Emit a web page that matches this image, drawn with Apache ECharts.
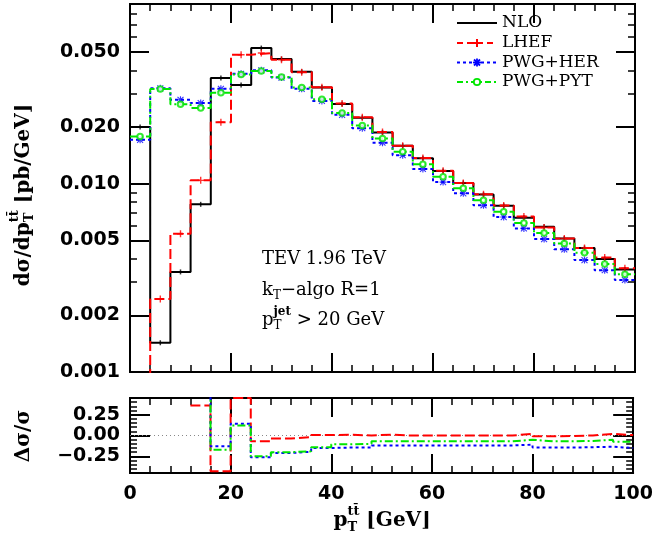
<!DOCTYPE html>
<html><head><meta charset="utf-8">
<script src="https://cdn.jsdelivr.net/npm/echarts@6/dist/echarts.min.js"></script>
<style>html,body{margin:0;padding:0;background:#fff}#c{width:656px;height:539px}</style>
</head><body><div id="c"></div>
<script>
// ---------------- data ----------------
const binEdges = [0,4,8,12,16,20,24,28,32,36,40,44,48,52,56,60,64,68,72,76,80,84,88,92,96,100];
const nlo    = [0.0200,0.00143,0.0034,0.00777,0.0364,0.0334,0.0525,0.0459,0.0393,0.0324,0.0265,0.0224,0.0187,0.0159,0.01365,0.01168,0.0101,0.00875,0.00764,0.00659,0.0059,0.00512,0.00455,0.00398,0.0035];
const lhef   = [0.0005,0.00244,0.00542,0.01042,0.0212,0.0484,0.0494,0.0455,0.0391,0.0325,0.0267,0.0225,0.0188,0.0159,0.0137,0.0117,0.0101,0.0088,0.00766,0.0067,0.00585,0.00512,0.00456,0.00405,0.00356];
const pwgHer = [0.0171,0.0321,0.0279,0.0268,0.0319,0.0383,0.0400,0.0366,0.0319,0.0275,0.0232,0.0197,0.0165,0.01416,0.01197,0.0102,0.00889,0.00768,0.00665,0.00579,0.00508,0.00448,0.00393,0.00347,0.00308];
const pwgPyt = [0.0178,0.0318,0.0264,0.0252,0.0304,0.0380,0.0397,0.0369,0.0324,0.0281,0.0237,0.0204,0.0174,0.0148,0.01268,0.01089,0.00945,0.00816,0.0071,0.00618,0.00547,0.00482,0.0043,0.00375,0.0033];
const ratioLhef = [null,null,null,0.36,-0.43,0.45,-0.07,-0.035,-0.02,0.005,0.01,0.0,0.01,0.0,0.0,0.0,0.0,0.0,0.0,0.02,-0.01,-0.005,0.0,0.02,0.005];
const ratioHer  = [null,null,null,2.45,-0.13,0.14,-0.26,-0.21,-0.195,-0.15,-0.145,-0.145,-0.12,-0.12,-0.12,-0.12,-0.12,-0.12,-0.12,-0.11,-0.145,-0.145,-0.14,-0.135,-0.15];
const ratioPyt  = [null,null,null,2.24,-0.17,0.12,-0.25,-0.20,-0.19,-0.14,-0.105,-0.10,-0.07,-0.07,-0.07,-0.07,-0.07,-0.07,-0.07,-0.05,-0.07,-0.07,-0.065,-0.05,-0.075];
const yMajorTicks = [0.001,0.002,0.005,0.01,0.02,0.05];
const yMinorTicks = [0.003,0.004,0.006,0.007,0.008,0.009,0.03,0.04,0.06,0.07,0.08];
const rMajorTicks = [-0.25,0,0.25];
const rMinorTicks = [-0.4,-0.35,-0.3,-0.2,-0.15,-0.1,-0.05,0.05,0.1,0.15,0.2,0.3,0.35,0.4];
const seriesNames = ['NLO','LHEF','PWG+HER','PWG+PYT'];

// ---------------- helpers ----------------
function stepData(vals){
  const d=[];
  for(let i=0;i<vals.length;i++) d.push([binEdges[i], vals[i]==null?'-':vals[i]]);
  const last=vals[vals.length-1];
  d.push([binEdges[vals.length], last==null?'-':last]);
  return d;
}
function centerData(vals){ return vals.map((v,i)=>[(binEdges[i]+binEdges[i+1])/2, v]); }

const TICKFONT = {fontFamily:'DejaVu Sans', fontWeight:'bold', fontSize:19, color:'#000'};
const AXLINE = {show:true, onZero:false, lineStyle:{color:'#000', width:2}};
function xAx(grid,pos,labels){
  return {type:'value', gridIndex:grid, position:pos, min:0, max:100, interval:20,
    axisLine:AXLINE,
    axisTick:{show:true, inside:true, length:19, lineStyle:{color:'#000', width:2}},
    minorTick:{show:true, splitNumber:5, length:7, lineStyle:{color:'#000', width:1.5}},
    axisLabel:Object.assign({show:labels, margin:12}, TICKFONT),
    splitLine:{show:false}, minorSplitLine:{show:false}};
}
function yLogAx(pos,ticks,len,labels){
  return {type:'log', logBase:10, gridIndex:0, position:pos, min:0.001, max:0.09,
    axisLine:AXLINE,
    axisTick:{show:true, inside:true, length:len, customValues:ticks, lineStyle:{color:'#000', width:len>10?2:1.5}},
    axisLabel:Object.assign({show:labels, margin:10, customValues:yMajorTicks, formatter:v=>Number(v).toFixed(3)}, TICKFONT),
    splitLine:{show:false}, minorTick:{show:false}};
}
function yRatAx(pos,ticks,len,labels){
  return {type:'value', gridIndex:1, position:pos, min:-0.45, max:0.45,
    axisLine:AXLINE,
    axisTick:{show:true, inside:true, length:len, customValues:ticks, lineStyle:{color:'#000', width:len>10?2:1.5}},
    axisLabel:Object.assign({show:labels, margin:10, customValues:rMajorTicks,
      formatter:v=>{v=Number(v); if(Math.abs(v)<1e-9) return '0.00'; return (v<0?'\u2212':'')+Math.abs(v).toFixed(2);} }, TICKFONT),
    splitLine:{show:false}, minorTick:{show:false}};
}

// text layout helper (sub/superscripts)
const mctx = document.createElement('canvas').getContext('2d');
function fontStr(size,family,weight){ return (weight||'normal')+' '+size+'px "'+family+'"'; }
function mathText(pieces,family,weight,color){
  let cursor=0,lastX=0; const children=[];
  pieces.forEach(p=>{
    const f=fontStr(p.s,family,p.w||weight);
    mctx.font=f; const w=mctx.measureText(p.t).width;
    const x=p.stack?lastX:cursor;
    children.push({type:'text', x:x, y:p.dy||0, style:{text:p.t, font:f, fill:color||'#000', textAlign:'left', align:'left', textVerticalAlign:'middle', verticalAlign:'middle'}});
    cursor=Math.max(cursor,x+w); lastX=x;
  });
  return {children, width:cursor};
}
function placed(pieces,family,weight,x,y,anchor,rotation){
  const m=mathText(pieces,family,weight);
  const off = anchor==='center' ? -m.width/2 : 0;
  m.children.forEach(c=>{c.x+=off;});
  return {type:'group', x:x, y:y, rotation:rotation||0, children:m.children};
}

// ---------------- legend (graphic) ----------------
const lineCols = ['#000000','#ff0000','#0000ff','#00e600'];
const legendStyles = [
  {dash:null, marker:'bar'},
  {dash:[6,4], marker:'plus'},
  {dash:[3,3], marker:'star'},
  {dash:[6,3,2,3], marker:'circle'}
];
const legendRowsY = [23, 43, 62.5, 82];
const legendEls = [];
seriesNames.forEach((name,i)=>{
  const st=legendStyles[i], col=lineCols[i], y=legendRowsY[i], cx=477;
  legendEls.push({type:'line', shape:{x1:457,y1:y,x2:497,y2:y}, style:{stroke:col, lineWidth:2, lineDash:st.dash}});
  if(st.marker==='plus'){
    legendEls.push({type:'rect', shape:{x:cx-4,y:y-1,width:8,height:2}, style:{fill:col}});
    legendEls.push({type:'rect', shape:{x:cx-1,y:y-4,width:2,height:8}, style:{fill:col}});
  } else if(st.marker==='star'){
    [[-4,0,4,0],[0,-4,0,4],[-3,-3,3,3],[-3,3,3,-3]].forEach(s=>legendEls.push({type:'line', shape:{x1:cx+s[0],y1:y+s[1],x2:cx+s[2],y2:y+s[3]}, style:{stroke:col,lineWidth:1.8}}));
  } else if(st.marker==='circle'){
    legendEls.push({type:'circle', shape:{cx:cx,cy:y,r:3.2}, style:{stroke:col, fill:'#fff', lineWidth:1.8}});
  }
  legendEls.push({type:'text', x:502, y:y, style:{text:name, font:fontStr(17,'DejaVu Serif'), fill:'#000', textAlign:'left', align:'left', textVerticalAlign:'middle', verticalAlign:'middle'}});
});

const annot = [
  placed([{t:'TEV 1.96 TeV', s:18}], 'DejaVu Serif', 'normal', 262, 259.5),
  placed([{t:'k', s:18},{t:'T', s:12, dy:6},{t:'\u2212algo R=1', s:18}], 'DejaVu Serif', 'normal', 262, 290),
  placed([{t:'p', s:18},{t:'T', s:12, dy:6},{t:'jet', s:12, dy:-8, stack:true, w:'bold'},{t:' > 20 GeV', s:18}], 'DejaVu Serif', 'normal', 262, 320)
];
const titles = [
  placed([{t:'d\u03c3/dp', s:20},{t:'T', s:13, dy:6},{t:'tt\u0304', s:13, dy:-9, stack:true},{t:' \u230apb/GeV\u230b', s:20}], 'DejaVu Serif', 'bold', 24, 195, 'center', Math.PI/2),
  placed([{t:'\u0394\u03c3/\u03c3', s:20}], 'DejaVu Serif', 'bold', 24, 436, 'center', Math.PI/2),
  placed([{t:'p', s:20},{t:'T', s:13, dy:7},{t:'tt\u0304', s:13, dy:-9, stack:true},{t:' \u230aGeV\u230b', s:20}], 'DejaVu Serif', 'bold', 382, 521, 'center')
];

// ---------------- series ----------------
const lineDash = ['solid',[10,4],[3,3],[8,3,2,3]];
const topVals = [nlo,lhef,pwgHer,pwgPyt];
const ratVals = [null,ratioLhef,ratioHer,ratioPyt];
const markerSym = [
  'path://M0,0H2V10H0Z',
  'path://M0,4H10V6H0Z M4,0H6V10H4Z',
  'path://M4.2,0H5.8V10H4.2Z M0,4.2H10V5.8H0Z M1.3,0.2L9.8,8.7L8.7,9.8L0.2,1.3Z M8.7,0.2L9.8,1.3L1.3,9.8L0.2,8.7Z',
  'emptyCircle'
];
const markerSize = [[1.5,5],7,7,5.5];
const series=[];
topVals.forEach((v,i)=>{
  series.push({name:seriesNames[i], type:'line', step:'end', xAxisIndex:0, yAxisIndex:0, data:stepData(v),
    symbol:'none', showSymbol:false, clip:true, z:2+i,
    lineStyle:{color:lineCols[i], width:2, type:lineDash[i]}});
});
topVals.forEach((v,i)=>{
  series.push({name:seriesNames[i]+' pts', type:'scatter', xAxisIndex:0, yAxisIndex:0, data:centerData(v), clip:true, z:10+i,
    symbol:markerSym[i], symbolSize:markerSize[i],
    itemStyle: i===3 ? {color:lineCols[i], borderColor:lineCols[i], borderWidth:1.5} : {color:lineCols[i]}});
});
ratVals.forEach((v,i)=>{
  if(!v) return;
  series.push({name:seriesNames[i]+' ratio', type:'line', step:'end', xAxisIndex:2, yAxisIndex:4, data:stepData(v),
    symbol:'none', showSymbol:false, clip:true, z:2+i, connectNulls:false,
    lineStyle:{color:lineCols[i], width:2, type:lineDash[i]},
    markLine: i===3 ? {silent:true, symbol:'none', label:{show:false}, z:1,
      lineStyle:{color:'#888', type:[1,3], width:1}, data:[{yAxis:0}]} : undefined});
});

const option = {
  animation:false,
  backgroundColor:'#fff',
  grid:[{left:130, top:4, width:505, height:368}, {left:130, top:398, width:505, height:75}],
  xAxis:[xAx(0,'bottom',false), xAx(0,'top',false), xAx(1,'bottom',true), xAx(1,'top',false)],
  yAxis:[yLogAx('left',yMajorTicks,19,true), yLogAx('left',yMinorTicks,7,false),
         yLogAx('right',yMajorTicks,19,false), yLogAx('right',yMinorTicks,7,false),
         yRatAx('left',rMajorTicks,20,true), yRatAx('left',rMinorTicks,7,false),
         yRatAx('right',rMajorTicks,20,false), yRatAx('right',rMinorTicks,7,false)],
  series:series,
  graphic:{elements: legendEls.concat(annot, titles)}
};
const chart = echarts.init(document.getElementById('c'), null, {renderer:'canvas'});
chart.setOption(option);
</script></body></html>
